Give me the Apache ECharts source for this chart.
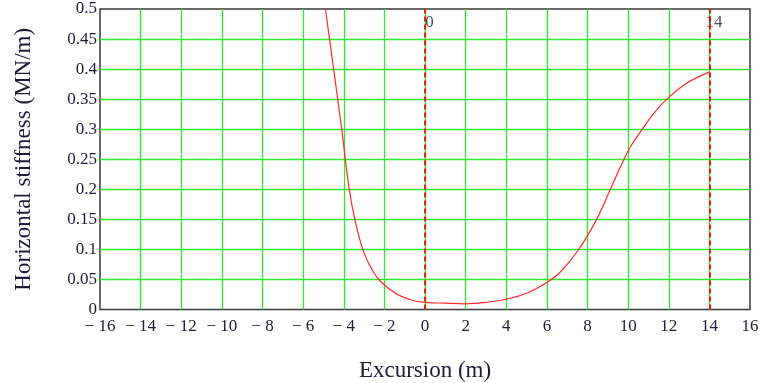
<!DOCTYPE html>
<html>
<head>
<meta charset="utf-8">
<script src="https://cdn.jsdelivr.net/npm/echarts@6/dist/echarts.min.js"></script>
<style>
  html, body { margin: 0; padding: 0; background: #fff; }
  #chart { width: 764px; height: 383px; }
</style>
</head>
<body>
<div id="chart"></div>
<script>
// excursion (m) and horizontal stiffness (MN/m)
const excursion = [-4.9, -4.5, -4.1, -3.73, -3.42, -3.04, -2.6, -2.2, -1.4, -0.6, 0, 1, 2, 3, 4, 5, 6, 6.65, 7.55, 8.45, 9.1, 9.6, 10.1, 10.7, 11.3, 12, 12.9, 14];
const stiffness = [0.5, 0.4, 0.3, 0.2, 0.145, 0.098, 0.066, 0.047, 0.026, 0.015, 0.012, 0.0105, 0.0095, 0.012, 0.017, 0.027, 0.045, 0.062, 0.099, 0.15, 0.198, 0.236, 0.27, 0.3, 0.328, 0.353, 0.377, 0.395];
// vertical marker positions
const markers = [0, 14];

const textColor = '#1c1c38';
const serif = '"Liberation Serif", "DejaVu Serif", serif';

let chart = echarts.init(document.getElementById('chart'));

let option = {
    animation: false,
    backgroundColor: '#fff',
    grid: {
        left: 100,
        right: 14,
        top: 9,
        bottom: 73.5,
        outerBoundsMode: 'none',
        containLabel: false,
        show: true,
        borderColor: '#3a3a3a',
        borderWidth: 1.5,
        backgroundColor: 'transparent'
    },
    xAxis: {
        type: 'value',
        min: -16,
        max: 16,
        interval: 2,
        name: 'Excursion (m)',
        nameLocation: 'middle',
        nameGap: 50,
        nameTextStyle: { color: textColor, fontFamily: serif, fontSize: 23 },
        axisLine: { show: false },
        axisTick: { show: false },
        axisLabel: {
            color: textColor,
            fontFamily: serif,
            fontSize: 17,
            margin: 9,
            formatter: function (v) {
                return v < 0 ? '\u2212 ' + Math.abs(v) : String(v);
            }
        },
        splitLine: { show: true, showMinLine: false, showMaxLine: false, lineStyle: { color: '#2ee82e', width: 1.3 } }
    },
    yAxis: {
        type: 'value',
        min: 0,
        max: 0.5,
        interval: 0.05,
        name: 'Horizontal stiffness (MN/m)',
        nameLocation: 'middle',
        nameGap: 65,
        nameTextStyle: { color: textColor, fontFamily: serif, fontSize: 23 },
        axisLine: { show: false },
        axisTick: { show: false },
        axisLabel: {
            color: textColor,
            fontFamily: serif,
            fontSize: 17,
            margin: 3
        },
        splitLine: { show: true, showMinLine: false, showMaxLine: false, lineStyle: { color: '#2ee82e', width: 1.3 } }
    },
    series: [
        {
            type: 'line',
            data: excursion.map((x, i) => [x, stiffness[i]]),
            smooth: 0.4,
            symbol: 'none',
            clip: true,
            lineStyle: { color: '#ff2a2a', width: 1.2 },
            markLine: {
                silent: true,
                symbol: 'none',
                label: { show: false },
                lineStyle: { color: '#ff0000', type: [5, 3], width: 1.8, opacity: 1 },
                data: markers.map(m => ({ xAxis: m }))
            },
            z: 3
        },
        {
            type: 'scatter',
            data: markers.map(m => [m, 0.5]),
            symbolSize: 0,
            silent: true,
            label: {
                show: true,
                position: [4.5, 5],
                align: 'center',
                verticalAlign: 'top',
                color: textColor,
                fontFamily: serif,
                fontSize: 17,
                formatter: p => String(p.value[0])
            },
            z: 4
        }
    ]
};

chart.setOption(option);
</script>
</body>
</html>
